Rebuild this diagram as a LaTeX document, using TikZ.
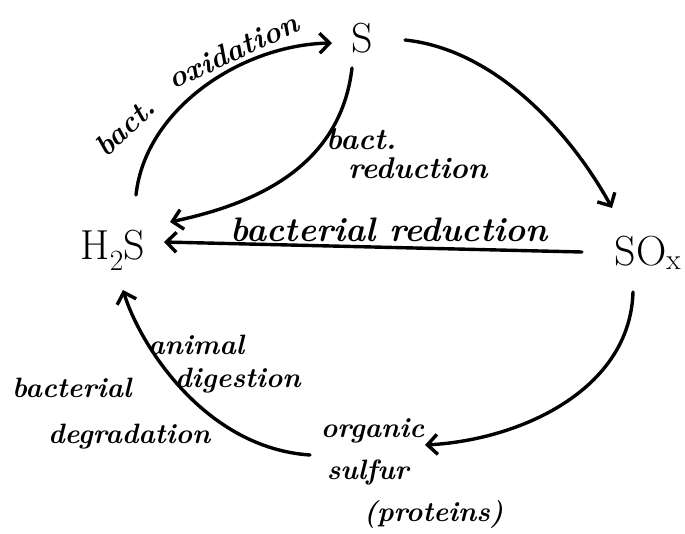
\documentclass[tikz,border=0pt]{standalone}
\usepackage{fontspec}
\usetikzlibrary{arrows.meta}
\begin{document}
\begin{tikzpicture}[x=1pt,y=-1pt,
  flow/.style={line width=3.4pt, line cap=round,
    -{Straight Barb[length=10pt,width=20pt,line width=3.4pt]}},
  chem/.style={font=\fontsize{42}{46}\selectfont, inner sep=0pt},
  lbl/.style={inner sep=0pt, align=left},
  lblfont/.style 2 args={font=\fontsize{#1}{#2}\selectfont\bfseries\itshape},
]
\useasboundingbox[fill=white] (0,0) rectangle (685,533);

% compounds of the cycle
\node[chem] (S)   at (362,38)  {S};
\node[chem] (H2S) at (113,250) {H\textsubscript{2}S};
\node[chem] (SOx) at (648,253) {SO\textsubscript{x}};
\node[lbl, lblfont={28}{42}] (org) at (412,474)
  {organic\\\hspace*{6pt}sulfur\\\hspace*{43pt}(proteins)};

% transformations
\draw[flow] ([shift={(23,-55)}]H2S.center)
  .. controls (145,110) and (240,45) .. ([shift={(-30,5)}]S.center);
\draw[flow] ([shift={(-10,30)}]S.center)
  .. controls (340,170) and (250,205) .. ([shift={(57,-28)}]H2S.center);
\draw[flow] ([shift={(43,2)}]S.center)
  .. controls (500,50) and (575,140) .. ([shift={(-36,-45)}]SOx.center);
\draw[flow] ([shift={(-66,-1)}]SOx.center) -- ([shift={(51,-8)}]H2S.center);
\draw[flow] ([shift={(-15,39)}]SOx.center)
  .. controls (630,390) and (520,440) .. ([shift={(13,-29)}]org.center);
\draw[flow] ([shift={(-102,-19)}]org.center)
  .. controls (205,448) and (140,345) .. ([shift={(10,40)}]H2S.center);

% process labels
\node[lbl, lblfont={30}{30}, rotate=43] (oxa) at (125,127) {bact.};
\node[lbl, lblfont={30}{30}, rotate=25] (oxb) at (233,51) {oxidation};
\node[lbl, lblfont={30}{29}, anchor=north west] (bactred) at (326,128)
  {bact.\\\hspace*{22pt}reduction};
\node[lbl, lblfont={34}{38}, anchor=base] (bacred) at (389,241)
  {bacterial reduction};
\node[lbl, lblfont={28}{33}, anchor=north west] (anim) at (148,335)
  {animal\\\hspace*{27pt}digestion};
\node[lbl, lblfont={28}{46}, anchor=north west] (degr) at (12,378)
  {bacterial\\\hspace*{36pt}degradation};
\end{tikzpicture}
\end{document}
